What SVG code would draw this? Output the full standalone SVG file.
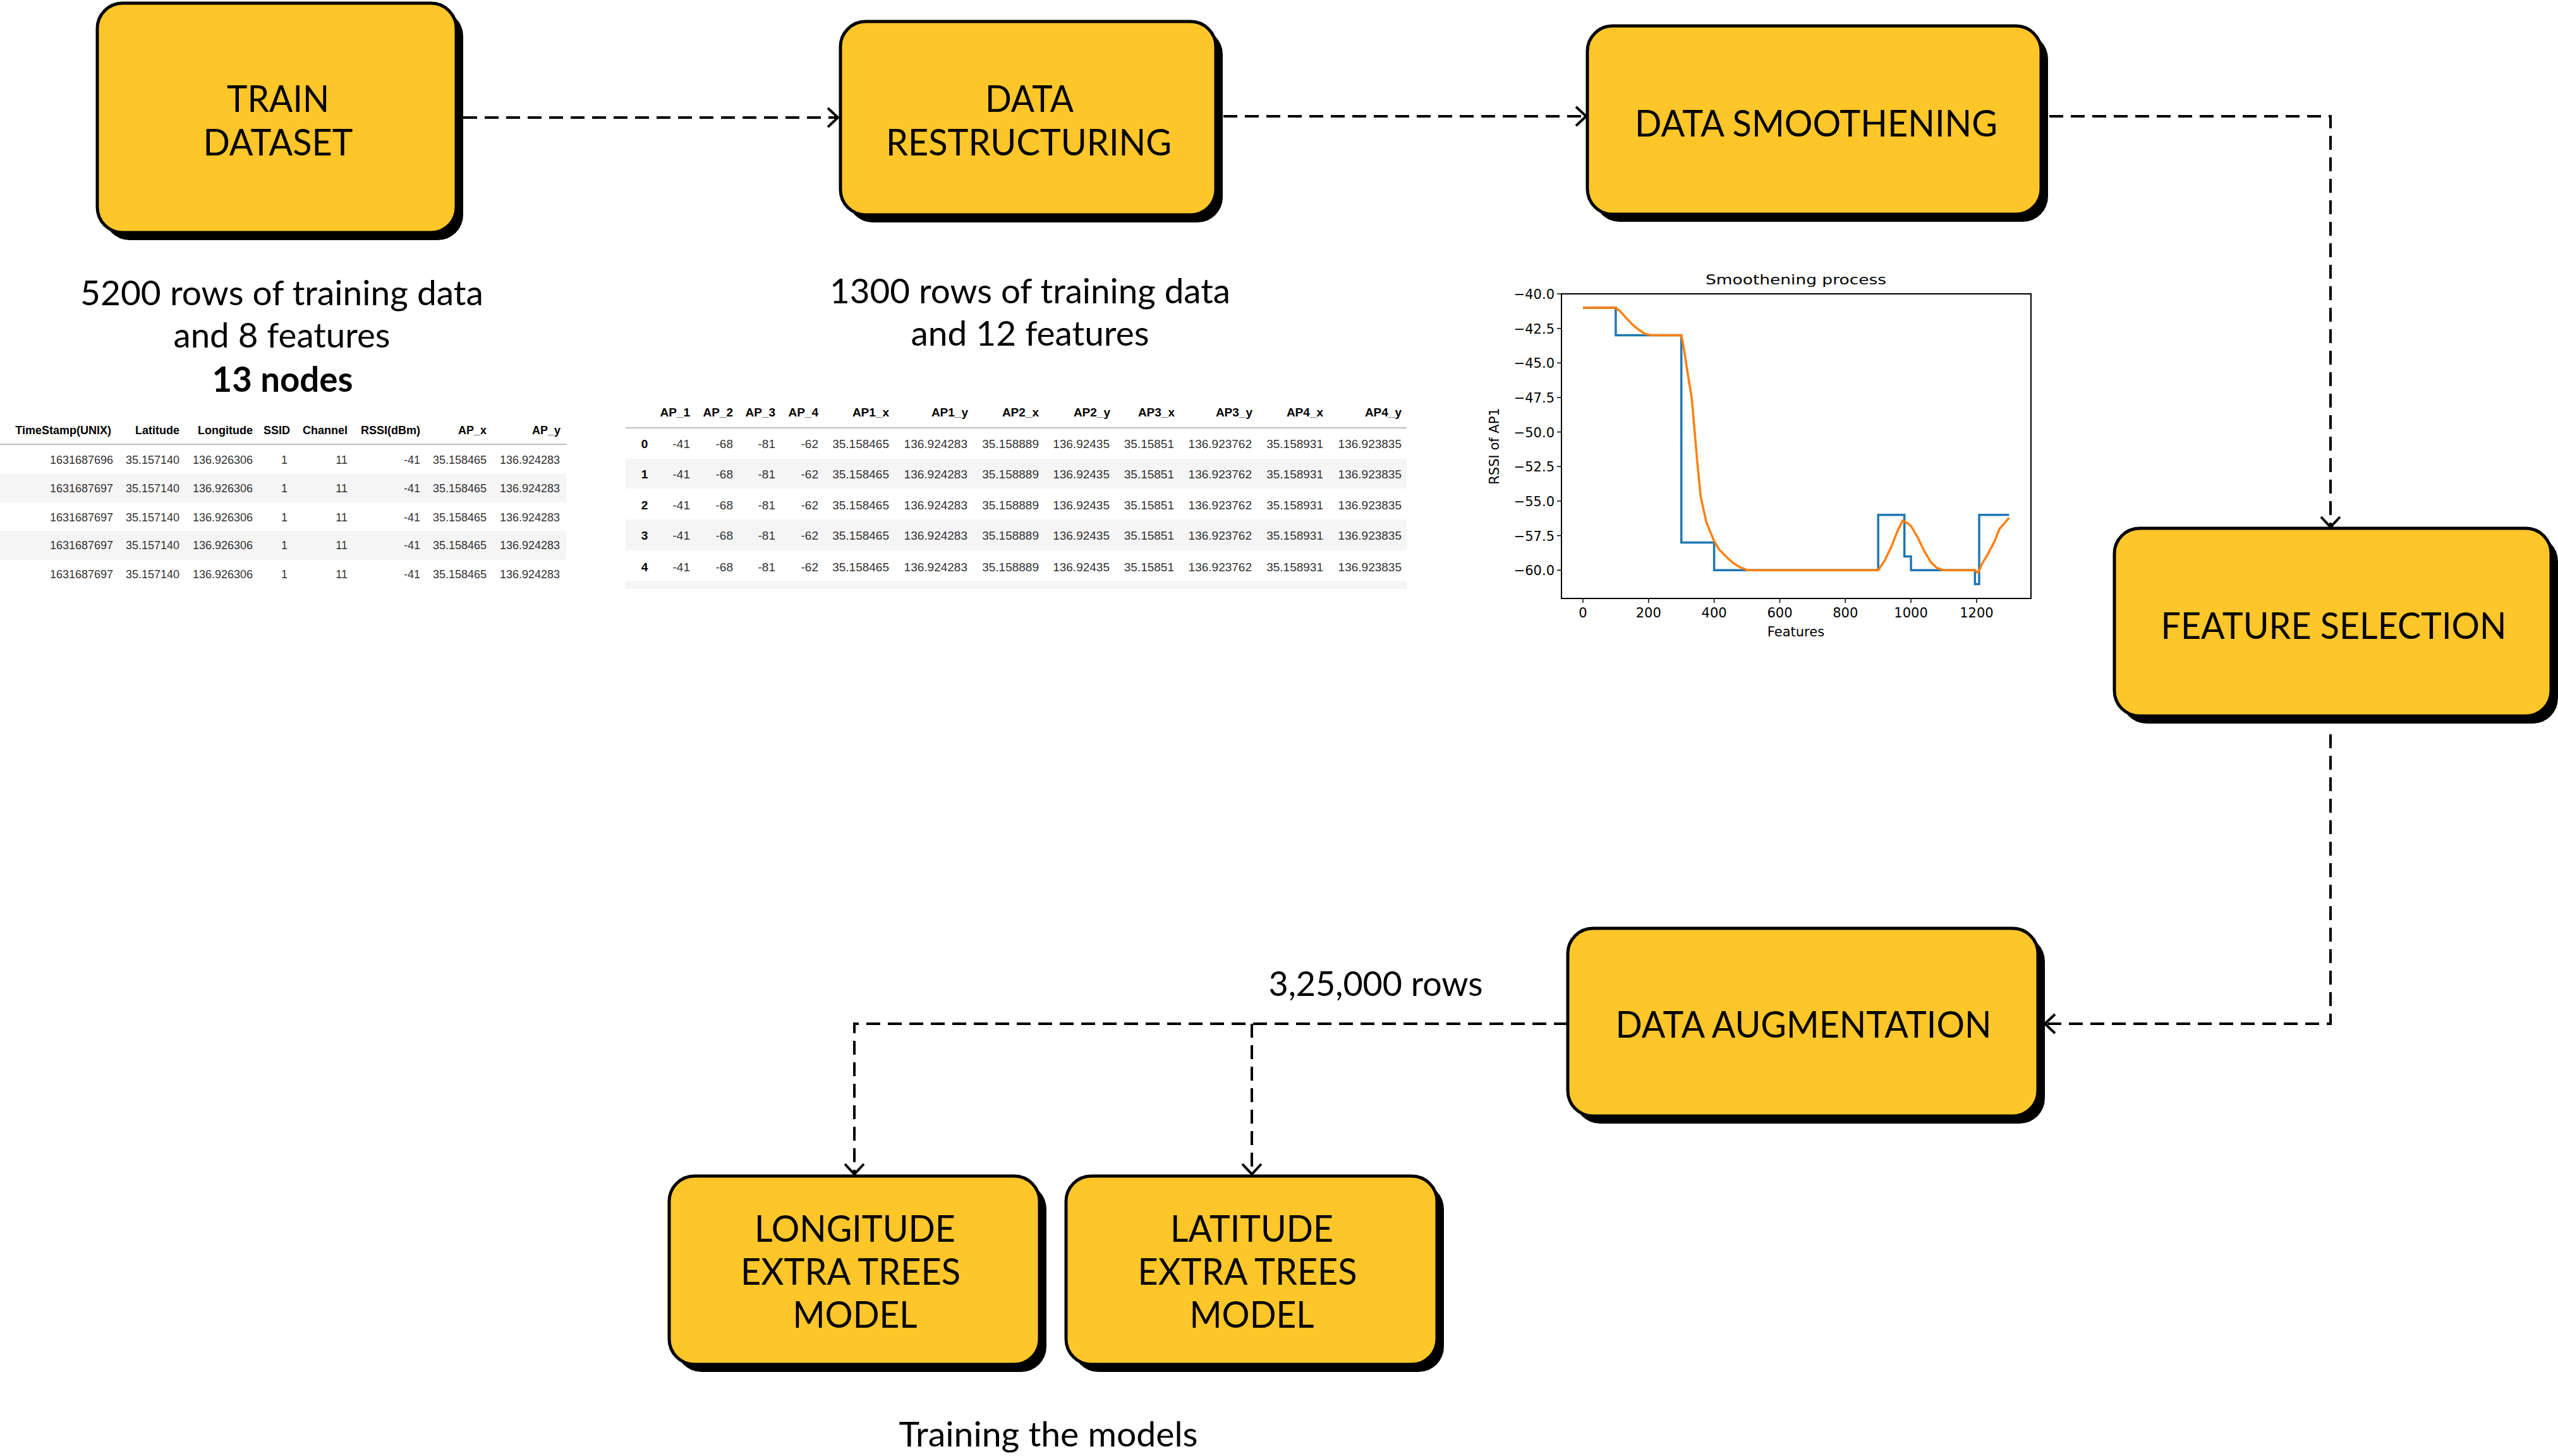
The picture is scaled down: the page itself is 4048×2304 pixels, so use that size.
<svg xmlns="http://www.w3.org/2000/svg" width="4048" height="2304" viewBox="0 0 4048 2304">
<style>
.box{fill:#FFC629;stroke:#000;stroke-width:5}
.shadow{fill:#000}
.lbl{font-family:Lato,"Liberation Sans",sans-serif;font-size:59px;fill:#000;text-anchor:middle}
.sub{font-family:Lato,"Liberation Sans",sans-serif;font-size:55px;fill:#000;text-anchor:middle}
.bold{font-weight:bold}
.conn{fill:none;stroke:#000;stroke-width:4;stroke-dasharray:22 12}
.th1{font-family:"Liberation Sans",Arial,sans-serif;font-size:18px;font-weight:bold;fill:#000;text-anchor:end}
.td1{font-family:"Liberation Sans",Arial,sans-serif;font-size:18px;fill:#333;text-anchor:end}
.th2{font-family:"Liberation Sans",Arial,sans-serif;font-size:19px;font-weight:bold;fill:#000;text-anchor:end}
.td2{font-family:"Liberation Sans",Arial,sans-serif;font-size:19px;fill:#333;text-anchor:end}
.idx{font-family:"Liberation Sans",Arial,sans-serif;font-size:19px;font-weight:bold;fill:#000;text-anchor:middle}
.stripe{fill:#f5f5f5}
.hline{stroke:#bdbdbd;stroke-width:2}
.ax{font-family:"DejaVu Sans",sans-serif;font-size:21px;fill:#000}
.tick{stroke:#000;stroke-width:1.5}
</style>
<defs>
<marker id="arr" viewBox="-20 -18 24 36" refX="0" refY="0" markerWidth="24" markerHeight="36" markerUnits="userSpaceOnUse" orient="auto" overflow="visible">
<path d="M-16,-15 L0,0 L-16,15" fill="none" stroke="#000" stroke-width="4" stroke-dasharray="none"/>
</marker>
</defs>
<rect width="4048" height="2304" fill="#fff"/>

<g id="connectors">
<path class="conn" d="M733,186 H1326" marker-end="url(#arr)"/>
<path class="conn" d="M1936,184 H2510" marker-end="url(#arr)"/>
<path class="conn" d="M3209,184 H3688 V834" marker-end="url(#arr)"/>
<path class="conn" d="M3688,1162 V1620 H3236" marker-end="url(#arr)"/>
<path class="conn" d="M2481,1620 H1352 V1858" marker-end="url(#arr)"/>
<path class="conn" d="M1981,1620 V1858" marker-end="url(#arr)"/>
</g>

<g id="node-train-dataset">
<rect class="shadow" x="165" y="17" width="568" height="363" rx="40"/>
<rect class="box" x="154" y="5" width="568" height="363" rx="40"/>
<text class="lbl" x="440" y="177" textLength="162" lengthAdjust="spacingAndGlyphs">TRAIN</text>
<text class="lbl" x="440" y="246" textLength="237" lengthAdjust="spacingAndGlyphs">DATASET</text>
</g>

<g id="node-data-restructuring">
<rect class="shadow" x="1341" y="46" width="594" height="306" rx="40"/>
<rect class="box" x="1330" y="34" width="594" height="306" rx="40"/>
<text class="lbl" x="1629" y="177" textLength="140" lengthAdjust="spacingAndGlyphs">DATA</text>
<text class="lbl" x="1628" y="246" textLength="452" lengthAdjust="spacingAndGlyphs">RESTRUCTURING</text>
</g>

<g id="node-data-smoothening">
<rect class="shadow" x="2523" y="53" width="718" height="298" rx="40"/>
<rect class="box" x="2512" y="41" width="718" height="298" rx="40"/>
<text class="lbl" x="2874" y="216" textLength="574" lengthAdjust="spacingAndGlyphs">DATA SMOOTHENING</text>
</g>

<g id="node-feature-selection">
<rect class="shadow" x="3357" y="848" width="691" height="297" rx="40"/>
<rect class="box" x="3346" y="836" width="691" height="297" rx="40"/>
<text class="lbl" x="3693" y="1011" textLength="547" lengthAdjust="spacingAndGlyphs">FEATURE SELECTION</text>
</g>

<g id="node-data-augmentation">
<rect class="shadow" x="2492" y="1481" width="744" height="297" rx="40"/>
<rect class="box" x="2481" y="1469" width="744" height="297" rx="40"/>
<text class="lbl" x="2854" y="1642" textLength="595" lengthAdjust="spacingAndGlyphs">DATA AUGMENTATION</text>
</g>

<g id="node-longitude-model">
<rect class="shadow" x="1070" y="1873" width="586" height="298" rx="40"/>
<rect class="box" x="1059" y="1861" width="586" height="298" rx="40"/>
<text class="lbl" x="1353" y="1965" textLength="318" lengthAdjust="spacingAndGlyphs">LONGITUDE</text>
<text class="lbl" x="1346" y="2033" textLength="348" lengthAdjust="spacingAndGlyphs">EXTRA TREES</text>
<text class="lbl" x="1353" y="2101" textLength="197" lengthAdjust="spacingAndGlyphs">MODEL</text>
</g>

<g id="node-latitude-model">
<rect class="shadow" x="1698" y="1873" width="587" height="298" rx="40"/>
<rect class="box" x="1687" y="1861" width="587" height="298" rx="40"/>
<text class="lbl" x="1981" y="1965" textLength="258" lengthAdjust="spacingAndGlyphs">LATITUDE</text>
<text class="lbl" x="1974" y="2033" textLength="347" lengthAdjust="spacingAndGlyphs">EXTRA TREES</text>
<text class="lbl" x="1981" y="2101" textLength="197" lengthAdjust="spacingAndGlyphs">MODEL</text>
</g>

<g id="notes">
<text class="sub" x="446" y="483" textLength="638" lengthAdjust="spacingAndGlyphs">5200 rows of training data</text>
<text class="sub" x="446" y="550" textLength="343" lengthAdjust="spacingAndGlyphs">and 8 features</text>
<text class="sub bold" x="447" y="620" textLength="223" lengthAdjust="spacingAndGlyphs">13 nodes</text>
<text class="sub" x="1630" y="480" textLength="634" lengthAdjust="spacingAndGlyphs">1300 rows of training data</text>
<text class="sub" x="1630" y="547" textLength="377" lengthAdjust="spacingAndGlyphs">and 12 features</text>
<text class="sub" x="2177" y="1576" textLength="339" lengthAdjust="spacingAndGlyphs">3,25,000 rows</text>
<text class="sub" x="1659" y="2289" textLength="473" lengthAdjust="spacingAndGlyphs">Training the models</text>
</g>

<g id="table-raw">
<rect class="stripe" x="0" y="750" width="896" height="45"/>
<rect class="stripe" x="0" y="840" width="896" height="46"/>
<line class="hline" x1="0" y1="703" x2="896" y2="703"/>
<g class="th1">
<text x="176" y="687">TimeStamp(UNIX)</text><text x="284" y="687">Latitude</text><text x="400" y="687">Longitude</text><text x="459" y="687">SSID</text><text x="550" y="687">Channel</text><text x="665" y="687">RSSI(dBm)</text><text x="770" y="687">AP_x</text><text x="887" y="687">AP_y</text>
</g>
<g class="td1">
<text x="179" y="734">1631687696</text><text x="284" y="734">35.157140</text><text x="400" y="734">136.926306</text><text x="455" y="734">1</text><text x="550" y="734">11</text><text x="665" y="734">-41</text><text x="770" y="734">35.158465</text><text x="886" y="734">136.924283</text>
<text x="179" y="779">1631687697</text><text x="284" y="779">35.157140</text><text x="400" y="779">136.926306</text><text x="455" y="779">1</text><text x="550" y="779">11</text><text x="665" y="779">-41</text><text x="770" y="779">35.158465</text><text x="886" y="779">136.924283</text>
<text x="179" y="825">1631687697</text><text x="284" y="825">35.157140</text><text x="400" y="825">136.926306</text><text x="455" y="825">1</text><text x="550" y="825">11</text><text x="665" y="825">-41</text><text x="770" y="825">35.158465</text><text x="886" y="825">136.924283</text>
<text x="179" y="869">1631687697</text><text x="284" y="869">35.157140</text><text x="400" y="869">136.926306</text><text x="455" y="869">1</text><text x="550" y="869">11</text><text x="665" y="869">-41</text><text x="770" y="869">35.158465</text><text x="886" y="869">136.924283</text>
<text x="179" y="915">1631687697</text><text x="284" y="915">35.157140</text><text x="400" y="915">136.926306</text><text x="455" y="915">1</text><text x="550" y="915">11</text><text x="665" y="915">-41</text><text x="770" y="915">35.158465</text><text x="886" y="915">136.924283</text>
</g>
</g>

<g id="table-restructured">
<rect class="stripe" x="990" y="726" width="1236" height="47"/>
<rect class="stripe" x="990" y="822" width="1236" height="49"/>
<rect class="stripe" x="990" y="919" width="1236" height="13"/>
<line class="hline" x1="990" y1="677" x2="2226" y2="677"/>
<g class="th2">
<text x="1092" y="659">AP_1</text><text x="1160" y="659">AP_2</text><text x="1227" y="659">AP_3</text><text x="1295" y="659">AP_4</text><text x="1407" y="659">AP1_x</text><text x="1532" y="659">AP1_y</text><text x="1644" y="659">AP2_x</text><text x="1757" y="659">AP2_y</text><text x="1859" y="659">AP3_x</text><text x="1982" y="659">AP3_y</text><text x="2094" y="659">AP4_x</text><text x="2218" y="659">AP4_y</text>
</g>
<g class="idx">
<text x="1020" y="709">0</text><text x="1020" y="757">1</text><text x="1020" y="806">2</text><text x="1020" y="854">3</text><text x="1020" y="904">4</text>
</g>
<g class="td2">
<text x="1092" y="709">-41</text><text x="1160" y="709">-68</text><text x="1227" y="709">-81</text><text x="1295" y="709">-62</text><text x="1407" y="709">35.158465</text><text x="1531" y="709">136.924283</text><text x="1644" y="709">35.158889</text><text x="1756" y="709">136.92435</text><text x="1858" y="709">35.15851</text><text x="1981" y="709">136.923762</text><text x="2094" y="709">35.158931</text><text x="2218" y="709">136.923835</text>
<text x="1092" y="757">-41</text><text x="1160" y="757">-68</text><text x="1227" y="757">-81</text><text x="1295" y="757">-62</text><text x="1407" y="757">35.158465</text><text x="1531" y="757">136.924283</text><text x="1644" y="757">35.158889</text><text x="1756" y="757">136.92435</text><text x="1858" y="757">35.15851</text><text x="1981" y="757">136.923762</text><text x="2094" y="757">35.158931</text><text x="2218" y="757">136.923835</text>
<text x="1092" y="806">-41</text><text x="1160" y="806">-68</text><text x="1227" y="806">-81</text><text x="1295" y="806">-62</text><text x="1407" y="806">35.158465</text><text x="1531" y="806">136.924283</text><text x="1644" y="806">35.158889</text><text x="1756" y="806">136.92435</text><text x="1858" y="806">35.15851</text><text x="1981" y="806">136.923762</text><text x="2094" y="806">35.158931</text><text x="2218" y="806">136.923835</text>
<text x="1092" y="854">-41</text><text x="1160" y="854">-68</text><text x="1227" y="854">-81</text><text x="1295" y="854">-62</text><text x="1407" y="854">35.158465</text><text x="1531" y="854">136.924283</text><text x="1644" y="854">35.158889</text><text x="1756" y="854">136.92435</text><text x="1858" y="854">35.15851</text><text x="1981" y="854">136.923762</text><text x="2094" y="854">35.158931</text><text x="2218" y="854">136.923835</text>
<text x="1092" y="904">-41</text><text x="1160" y="904">-68</text><text x="1227" y="904">-81</text><text x="1295" y="904">-62</text><text x="1407" y="904">35.158465</text><text x="1531" y="904">136.924283</text><text x="1644" y="904">35.158889</text><text x="1756" y="904">136.92435</text><text x="1858" y="904">35.15851</text><text x="1981" y="904">136.923762</text><text x="2094" y="904">35.158931</text><text x="2218" y="904">136.923835</text>
</g>
</g>

<g id="chart-smoothening">
<text class="ax" x="2842" y="450" font-size="27" text-anchor="middle" textLength="286" lengthAdjust="spacingAndGlyphs">Smoothening process</text>
<polyline fill="none" stroke="#1f77b4" stroke-width="3.5" stroke-linejoin="miter" points="2505,486.9 2556.9,486.9 2556.9,530.6 2660.7,530.6 2660.7,858.6 2712.6,858.6 2712.6,902.3 2972.2,902.3 2972.2,814.8 3013.7,814.8 3013.7,880.4 3024.1,880.4 3024.1,902.3 3125.3,902.3 3125.3,924.2 3132,924.2 3132,814.8 3179.3,814.8"/>
<polyline fill="none" stroke="#ff7f0e" stroke-width="3.5" stroke-linejoin="round" points="2505,486.9 2556.9,486.9 2564.7,493.4 2572.5,502.2 2582.9,513.1 2593.2,521.8 2603.6,528.4 2614,530.6 2660.7,530.6 2664.9,552.5 2668.5,576.5 2677.3,631.2 2685.6,727.4 2691.4,786.4 2700.2,825.8 2711.6,854.2 2720.4,869.5 2733.4,882.6 2743.3,891.3 2754.2,897.9 2766.1,902.3 2972.2,902.3 2982.6,887 2993,865.1 3003.3,838.9 3011.1,823.6 3018.9,828 3024.1,832.3 3034.5,849.8 3044.9,871.7 3055.2,889.2 3065.6,899 3076,902.3 3125.3,902.3 3130.5,906.7 3135.7,893.6 3146.1,876.1 3156.5,856.4 3164.3,836.7 3172.1,828 3179.3,819.2"/>
<rect x="2471" y="465" width="743" height="482" fill="none" stroke="#000" stroke-width="2"/>
<g class="tick">
<line x1="2464" y1="465" x2="2471" y2="465"/><line x1="2464" y1="519.7" x2="2471" y2="519.7"/><line x1="2464" y1="574.3" x2="2471" y2="574.3"/><line x1="2464" y1="629" x2="2471" y2="629"/><line x1="2464" y1="683.6" x2="2471" y2="683.6"/><line x1="2464" y1="738.3" x2="2471" y2="738.3"/><line x1="2464" y1="793" x2="2471" y2="793"/><line x1="2464" y1="847.6" x2="2471" y2="847.6"/><line x1="2464" y1="902.3" x2="2471" y2="902.3"/>
<line x1="2505" y1="947" x2="2505" y2="954"/><line x1="2608.8" y1="947" x2="2608.8" y2="954"/><line x1="2712.6" y1="947" x2="2712.6" y2="954"/><line x1="2816.5" y1="947" x2="2816.5" y2="954"/><line x1="2920.3" y1="947" x2="2920.3" y2="954"/><line x1="3024.1" y1="947" x2="3024.1" y2="954"/><line x1="3127.9" y1="947" x2="3127.9" y2="954"/>
</g>
<g class="ax" text-anchor="end">
<text x="2460" y="473">−40.0</text><text x="2460" y="527.7">−42.5</text><text x="2460" y="582.3">−45.0</text><text x="2460" y="637">−47.5</text><text x="2460" y="691.6">−50.0</text><text x="2460" y="746.3">−52.5</text><text x="2460" y="801">−55.0</text><text x="2460" y="855.6">−57.5</text><text x="2460" y="910.3">−60.0</text>
</g>
<g class="ax" text-anchor="middle">
<text x="2505" y="977">0</text><text x="2608.8" y="977">200</text><text x="2712.6" y="977">400</text><text x="2816.5" y="977">600</text><text x="2920.3" y="977">800</text><text x="3024.1" y="977">1000</text><text x="3127.9" y="977">1200</text>
<text x="2842" y="1007">Features</text>
<text x="0" y="0" transform="translate(2372,706) rotate(-90)">RSSI of AP1</text>
</g>
</g>
</svg>
